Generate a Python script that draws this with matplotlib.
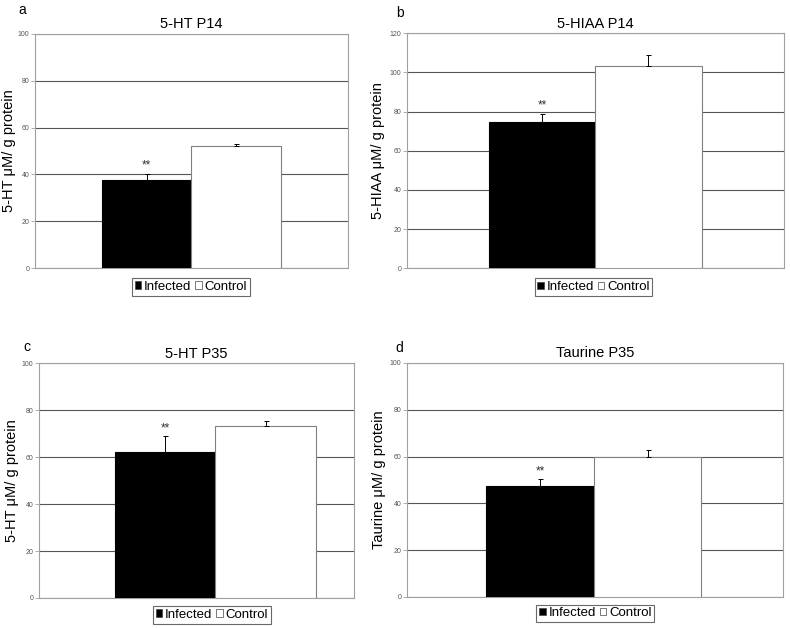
import numpy as np
import matplotlib
matplotlib.use('Agg')
import matplotlib.pyplot as plt

plt.rcParams['font.family'] = ['Liberation Sans', 'DejaVu Sans']

# data
groups = ['Infected', 'Control']
panel_letters = ['a', 'b', 'c', 'd']
titles = ['5-HT P14', '5-HIAA P14', '5-HT P35', 'Taurine P35']
ylabels = ['5-HT \u03bcM/ g protein', '5-HIAA \u03bcM/ g protein',
           '5-HT \u03bcM/ g protein', 'Taurine \u03bcM/ g protein']
means = [[37.8, 52.0], [74.5, 103.5], [62.0, 73.2], [47.6, 60.0]]
errors = [[2.6, 1.0], [4.5, 5.6], [6.8, 2.2], [2.7, 2.8]]
ymax = [100, 120, 100, 100]
ystep = 20

# layout
fig = plt.figure(figsize=(7.9, 6.28), dpi=100)
positions = [[0.0443, 0.573, 0.396, 0.373],
             [0.515, 0.573, 0.477, 0.374],
             [0.049, 0.0478, 0.399, 0.374],
             [0.515, 0.0494, 0.476, 0.3726]]
xlims = [(-1.25, 2.25), (-1.27, 2.27), (-1.26, 1.88), (-1.24, 2.26)]
legend_pos = [(0.498, -0.08), (0.495, -0.08), (0.549, -0.072), (0.501, -0.07)]
letter_pos = [(22, 10), (400, 13), (27, 347), (399, 348)]  # pixels from top-left
ylabel_pad = [1, 3, 2, 3]

grid_col = '#555555'
spine_col = '#a0a0a0'

for i in range(4):
    ax = fig.add_axes(positions[i])
    x = np.arange(len(groups))
    bars = ax.bar(x, means[i], width=1.0, color=['black', 'white'],
                  edgecolor=['black', '#808080'], linewidth=0.8, zorder=3)
    ax.errorbar(x, means[i], yerr=[[0, 0], errors[i]], fmt='none',
                ecolor='black', elinewidth=0.7, capsize=1.8, capthick=0.7, zorder=4)
    ax.text(x[0], means[i][0] + errors[i][0] + ymax[i] * 0.008, '**',
            ha='center', va='bottom', fontsize=8.5, color='#333333', zorder=5)

    ax.set_xlim(*xlims[i])
    ax.set_ylim(0, ymax[i])
    ax.set_yticks(np.arange(0, ymax[i] + 1, ystep))
    ax.set_xticks([])
    ax.yaxis.grid(True, color=grid_col, linewidth=0.8)
    ax.set_axisbelow(True)
    for s in ax.spines.values():
        s.set_color(spine_col)
        s.set_linewidth(0.8)
    ax.tick_params(axis='y', labelsize=5, colors='#555555', length=3,
                   width=0.6, pad=1, direction='out')
    ax.tick_params(axis='y', color=spine_col)

    ax.set_title(titles[i], fontsize=10.5, pad=4)
    ax.set_ylabel(ylabels[i], fontsize=10.5, labelpad=ylabel_pad[i])
    fig.text(letter_pos[i][0] / 790, 1 - letter_pos[i][1] / 628, panel_letters[i],
             fontsize=10, ha='center', va='center')

    leg = ax.legend(bars, groups, loc='center', bbox_to_anchor=legend_pos[i],
                    ncol=2, fontsize=9.5, frameon=True, fancybox=False,
                    handlelength=0.5, handleheight=0.5, handletextpad=0.2,
                    columnspacing=0.3, borderpad=0.2, borderaxespad=0)
    leg.get_frame().set_edgecolor('#444444')
    leg.get_frame().set_linewidth(0.8)
    for h in leg.legend_handles:
        h.set_edgecolor('#444444')
        h.set_linewidth(0.5)

fig.savefig('out.png', dpi=100)
